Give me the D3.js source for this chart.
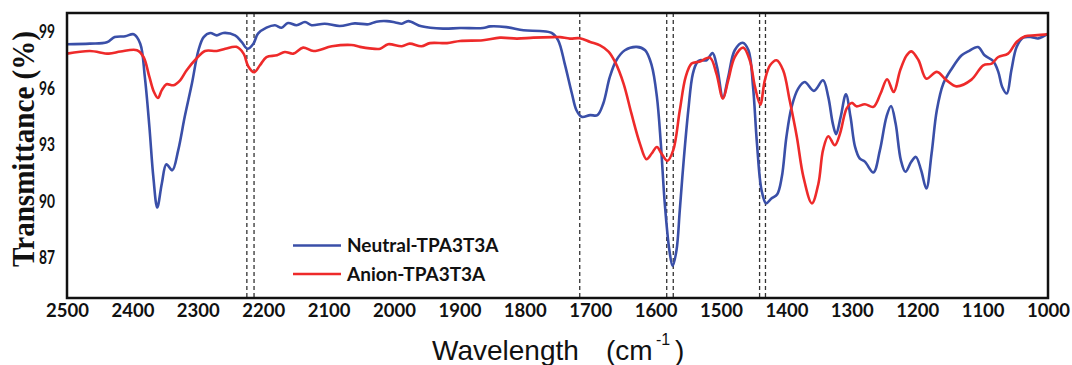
<!DOCTYPE html>
<html>
<head>
<meta charset="utf-8">
<script src="https://cdn.jsdelivr.net/npm/d3@7"></script>
<style>
  body { margin: 0; background: #fff; }
  svg { display: block; }
</style>
</head>
<body>
<svg id="chart" width="1072" height="365"></svg>
<script>
let width = 1072,
  height = 365;

// [wavenumber (cm-1), transmittance (%)]
const neutral = [
  [2500, 98.34], [2465, 98.37], [2439, 98.44], [2427, 98.72], [2411, 98.76], [2398, 98.87],
  [2388, 98.37], [2381, 96.6], [2374, 93.94], [2368, 91.29], [2362, 89.66], [2355, 90.94],
  [2348, 91.96], [2339, 91.64], [2330, 92.7], [2320, 94.48], [2309, 96.25], [2299, 98.02],
  [2291, 98.72], [2281, 98.94], [2271, 98.81], [2261, 98.94], [2243, 98.81], [2233, 98.46],
  [2224, 98.1], [2215, 98.37], [2208, 98.9], [2195, 99.22], [2182, 99.35], [2172, 99.22],
  [2162, 99.47], [2149, 99.35], [2136, 99.52], [2126, 99.35], [2106, 99.43], [2083, 99.31],
  [2060, 99.45], [2039, 99.4], [2027, 99.54], [2011, 99.57], [1998, 99.5], [1988, 99.43],
  [1978, 99.57], [1958, 99.29], [1925, 99.17], [1899, 99.2], [1864, 99.2], [1853, 99.29],
  [1828, 99.25], [1802, 99.08], [1777, 99.04], [1759, 98.94], [1749, 98.55], [1739, 97.31],
  [1728, 95.72], [1721, 94.83], [1713, 94.48], [1700, 94.57], [1689, 94.57], [1680, 95.19],
  [1670, 96.6], [1660, 97.49], [1647, 98.02], [1629, 98.2], [1616, 98.02], [1606, 97.22],
  [1598, 95.54], [1592, 93.06], [1586, 89.88], [1579, 87.4], [1574, 86.55], [1568, 87.4],
  [1563, 89.52], [1557, 92.18], [1550, 94.83], [1543, 96.78], [1536, 97.4], [1532, 97.49],
  [1522, 97.49], [1513, 97.87], [1506, 97.13], [1497, 95.5], [1489, 96.6], [1479, 98.02],
  [1467, 98.42], [1458, 98.02], [1451, 96.07], [1445, 93.06], [1438, 90.58], [1431, 89.88],
  [1423, 90.14], [1414, 90.37], [1407, 91.29], [1400, 93.41], [1392, 95.01], [1382, 95.98],
  [1372, 96.33], [1358, 95.86], [1344, 96.42], [1336, 95.54], [1329, 94.12], [1324, 93.56],
  [1317, 94.48], [1309, 95.68], [1302, 94.48], [1295, 92.88], [1288, 92.27], [1280, 92.1],
  [1267, 91.52], [1257, 92.71], [1247, 94.48], [1240, 95.06], [1233, 94.12], [1225, 92.18],
  [1218, 91.56], [1209, 92.09], [1202, 92.35], [1194, 91.64], [1186, 90.67], [1178, 92.53],
  [1170, 94.83], [1160, 96.25], [1147, 97.05], [1132, 97.75], [1122, 97.96], [1107, 98.19],
  [1097, 97.75], [1084, 97.45], [1076, 96.87], [1070, 96.07], [1063, 95.72], [1056, 96.96],
  [1048, 98.19], [1038, 98.69], [1025, 98.72], [1015, 98.65], [1000, 98.9]
]

const anion = [
  [2500, 97.84], [2465, 97.98], [2436, 97.84], [2418, 97.95], [2393, 98.02], [2383, 97.66],
  [2374, 96.6], [2367, 95.8], [2361, 95.48], [2355, 95.9], [2348, 96.21], [2337, 96.16],
  [2327, 96.42], [2317, 96.96], [2302, 97.58], [2289, 97.98], [2271, 97.98], [2258, 98.1],
  [2241, 98.2], [2230, 97.84], [2223, 97.17], [2214, 96.85], [2205, 97.22], [2195, 97.66],
  [2179, 97.75], [2167, 97.93], [2154, 97.84], [2139, 98.16], [2123, 97.98], [2095, 98.23],
  [2065, 98.3], [2052, 98.2], [2037, 98.12], [2021, 98.1], [2009, 98.34], [1988, 98.23],
  [1976, 98.37], [1958, 98.23], [1945, 98.4], [1919, 98.4], [1899, 98.51], [1864, 98.55],
  [1838, 98.69], [1812, 98.64], [1787, 98.69], [1756, 98.72], [1746, 98.72], [1731, 98.64],
  [1716, 98.66], [1700, 98.46], [1685, 98.28], [1672, 97.95], [1662, 97.4], [1649, 96.25],
  [1637, 94.66], [1624, 93.06], [1614, 92.23], [1606, 92.53], [1598, 92.88], [1591, 92.53],
  [1582, 92.14], [1573, 92.71], [1563, 94.83], [1554, 96.6], [1545, 97.31], [1535, 97.4],
  [1532, 97.42], [1517, 97.63], [1507, 96.78], [1497, 95.45], [1489, 96.42], [1479, 97.66],
  [1466, 98.16], [1456, 97.49], [1448, 96.07], [1440, 95.13], [1433, 96.42], [1425, 97.22],
  [1415, 97.49], [1405, 96.96], [1395, 95.36], [1384, 93.41], [1374, 91.29], [1361, 89.88],
  [1351, 90.94], [1344, 92.71], [1336, 93.45], [1326, 92.97], [1318, 93.59], [1308, 94.92],
  [1300, 95.22], [1293, 95.04], [1280, 95.15], [1267, 95.01], [1256, 95.72], [1246, 96.48],
  [1236, 95.8], [1226, 96.96], [1216, 97.75], [1209, 97.96], [1198, 97.49], [1186, 96.51],
  [1170, 96.87], [1155, 96.42], [1140, 96.1], [1117, 96.46], [1099, 97.22], [1086, 97.31],
  [1076, 97.66], [1061, 97.84], [1048, 98.46], [1035, 98.76], [1020, 98.81], [1000, 98.87]
]

const seriesNames = ["Neutral-TPA3T3A", "Anion-TPA3T3A"]
const seriesColors = ["#3a4fa8", "#ee2a2a"]
const xTicks = [2500, 2400, 2300, 2200, 2100, 2000, 1900, 1800, 1700, 1600, 1500, 1400, 1300, 1200, 1100, 1000]
const yTicks = [87, 90, 93, 96, 99]
const markerLines = [2225, 2214, 1716, 1583, 1573, 1441, 1432]

let margin = { left: 67, top: 13, right: 24, bottom: 67 }

function make_scales() {
  return {
    x: d3.scaleLinear()
      .domain([2500, 1000])
      .range([margin.left, width - margin.right]),
    y: d3.scaleLinear()
      .domain([84.85, 100])
      .range([height - margin.bottom, margin.top])
  }
}

function visualize() {
  let svg = d3.select("#chart")
  let scales = make_scales()
  let x0 = margin.left, x1 = width - margin.right
  let y0 = margin.top, y1 = height - margin.bottom

  // dashed reference lines
  svg.append("g")
    .selectAll("line")
    .data(markerLines).enter()
    .append("line")
    .attr("x1", d => scales.x(d))
    .attr("x2", d => scales.x(d))
    .attr("y1", y0)
    .attr("y2", y1)
    .attr("stroke", "#333")
    .attr("stroke-width", 1.3)
    .attr("stroke-dasharray", "4,3")

  let line_gen = d3.line()
    .x(d => scales.x(d[0]))
    .y(d => scales.y(d[1]))
    .curve(d3.curveCatmullRom.alpha(0.5))

  svg.append("g")
    .selectAll("path")
    .data([neutral, anion]).enter()
    .append("path")
    .attr("d", line_gen)
    .attr("fill", "none")
    .attr("stroke", (d, i) => seriesColors[i])
    .attr("stroke-width", 2.6)
    .attr("stroke-linejoin", "round")

  // frame
  svg.append("rect")
    .attr("x", x0).attr("y", y0)
    .attr("width", x1 - x0).attr("height", y1 - y0)
    .attr("fill", "none")
    .attr("stroke", "#111")
    .attr("stroke-width", 2.5)

  let axis = {
    x: d3.axisBottom(scales.x).tickValues(xTicks).tickSize(0).tickPadding(6).tickFormat(d3.format("d")),
    y: d3.axisLeft(scales.y).tickValues(yTicks).tickSize(0).tickPadding(12)
  }

  let gx = svg.append("g").attr("transform", `translate(0,${y1})`).call(axis.x)
  let gy = svg.append("g").attr("transform", `translate(${x0},0)`).call(axis.y)
  gx.select(".domain").remove()
  gy.select(".domain").remove()
  svg.selectAll(".tick text")
    .attr("fill", "#111")
    .style("font-family", "Lato, 'Open Sans', sans-serif")
    .style("font-weight", "bold")
    .style("font-size", "18.5px")
  gy.selectAll(".tick text")
    .style("font-size", "19px")
    .attr("textLength", 16)
    .attr("lengthAdjust", "spacingAndGlyphs")

  // legend
  let legend = svg.append("g")
  let legendY = [245.5, 274]
  seriesNames.forEach((name, i) => {
    legend.append("line")
      .attr("x1", 293).attr("x2", 341)
      .attr("y1", legendY[i]).attr("y2", legendY[i])
      .attr("stroke", seriesColors[i])
      .attr("stroke-width", 2.6)
    legend.append("text")
      .attr("x", 347)
      .attr("y", legendY[i])
      .attr("dy", "0.35em")
      .attr("fill", "#111")
      .style("font-family", "Lato, 'Open Sans', sans-serif")
      .style("font-weight", "bold")
      .style("font-size", "19px")
      .text(name)
  })

  // axis titles
  let xt = svg.append("text")
    .attr("y", 360)
    .attr("fill", "#111")
    .style("font-family", "'Liberation Sans', Arial, sans-serif")
    .style("font-size", "28px")
  xt.append("tspan").attr("x", 432).text("Wavelength")
  xt.append("tspan").attr("x", 606).text("(cm")
  xt.append("tspan").attr("x", 656).attr("y", 345).style("font-size", "16px").text("-1")
  xt.append("tspan").attr("x", 675).attr("y", 360).text(")")

  svg.append("text")
    .attr("transform", "translate(34,149) rotate(-90)")
    .attr("text-anchor", "middle")
    .attr("textLength", 236)
    .attr("lengthAdjust", "spacingAndGlyphs")
    .attr("fill", "#111")
    .style("font-family", "'Liberation Serif', 'Times New Roman', serif")
    .style("font-weight", "bold")
    .style("font-size", "31px")
    .text("Transmittance (%)")
}

visualize()
</script>
</body>
</html>
